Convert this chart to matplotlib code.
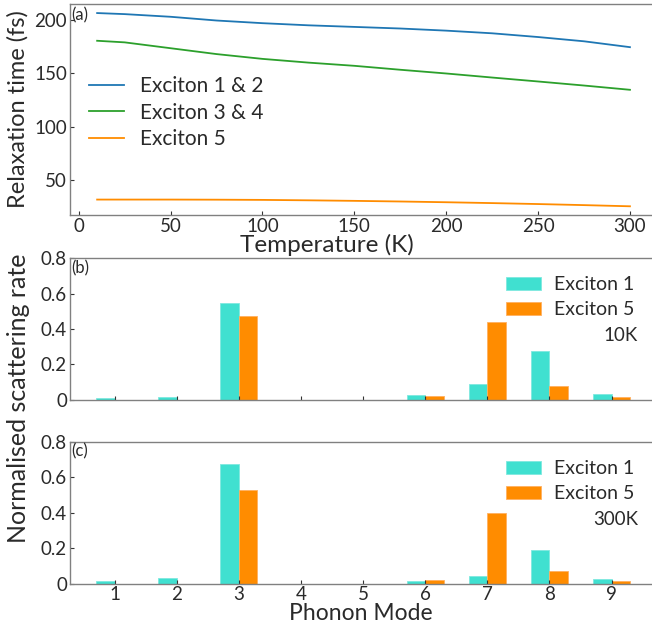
import matplotlib
matplotlib.use("Agg")
import matplotlib.pyplot as plt
import numpy as np

plt.rcParams['font.family'] = ['Lato', 'DejaVu Sans']

# Panel (a) data
temperature = [10, 25, 50, 75, 100, 125, 150, 175, 200, 225, 250, 275, 300]
exc12 = [206.5, 205.5, 203, 199.5, 197, 195, 193.5, 192, 190, 187.5, 184, 180, 174.5]
exc34 = [180.5, 179, 173.5, 168, 163.5, 160, 157, 153.3, 149.8, 146, 142.3, 138.5, 134.5]
exc5 = [31.5, 31.5, 31.5, 31.4, 31.2, 30.8, 30.3, 29.7, 29.0, 28.2, 27.3, 26.3, 25.2]

# Panels (b), (c) data
modes = [1, 2, 3, 4, 5, 6, 7, 8, 9]
ex1_10K = [0.012, 0.019, 0.546, 0, 0, 0.026, 0.092, 0.278, 0.035]
ex5_10K = [0, 0, 0.475, 0, 0, 0.020, 0.437, 0.077, 0.019]
ex1_300K = [0.015, 0.030, 0.674, 0, 0, 0.015, 0.045, 0.188, 0.028]
ex5_300K = [0, 0, 0.526, 0, 0, 0.019, 0.398, 0.072, 0.015]

cyan = '#40E0D0'
orange = '#FF8C00'
spine_col = '#808080'
text_col = '#2a2a2a'

fig = plt.figure(figsize=(6.52, 6.24), dpi=100)
ax_a = fig.add_axes([0.107, 0.6554, 0.893, 0.3382])
ax_b = fig.add_axes([0.107, 0.359, 0.893, 0.2275])
ax_c = fig.add_axes([0.107, 0.0646, 0.893, 0.2276])

def style(ax):
    for s in ['left', 'top', 'bottom']:
        ax.spines[s].set_color(spine_col)
        ax.spines[s].set_linewidth(1.0)
    ax.spines['right'].set_visible(False)
    ax.tick_params(direction='in', length=3, colors='#333333', labelsize=13.5,
                   labelcolor=text_col, pad=2)

ax_a.plot(temperature, exc12, color='tab:blue', lw=1.3, label='Exciton 1 & 2')
ax_a.plot(temperature, exc34, color='tab:green', lw=1.3, label='Exciton 3 & 4')
ax_a.plot(temperature, exc5, color=orange, lw=1.3, label='Exciton 5')
ax_a.set_xlim(-4.9, 312)
ax_a.set_ylim(17, 215)
ax_a.set_xticks([0, 50, 100, 150, 200, 250, 300])
ax_a.set_yticks([50, 100, 150, 200])
style(ax_a)
ax_a.set_xlabel('Temperature (K)', fontsize=17.5, labelpad=-1, color=text_col)
ax_a.xaxis.label.set_x(0.4416)
ax_a.set_ylabel('Relaxation time (fs)', fontsize=17, labelpad=4, color=text_col)
leg = ax_a.legend(loc='center left', bbox_to_anchor=(0.0, 0.485), frameon=False,
                  fontsize=15, handlelength=1.7, labelspacing=0.32, handletextpad=0.75,
                  labelcolor=text_col)
ax_a.text(0.003, 0.985, '(a)', transform=ax_a.transAxes, fontsize=12, va='top', ha='left',
          color=text_col)

x = np.array(modes, dtype=float)
w = 0.3
for ax, e1, e5, lab, tlab in [(ax_b, ex1_10K, ex5_10K, '(b)', '10K'),
                              (ax_c, ex1_300K, ex5_300K, '(c)', '300K')]:
    ax.bar(x - w / 2, e1, width=w, color=cyan, edgecolor='#7fe9df', linewidth=0.6, label='Exciton 1')
    ax.bar(x + w / 2, e5, width=w, color=orange, edgecolor='#ffb060', linewidth=0.6, label='Exciton 5')
    ax.set_xlim(0.28, 9.65)
    ax.set_ylim(0, 0.8)
    ax.set_yticks([0, 0.2, 0.4, 0.6, 0.8])
    ax.set_yticklabels(['0', '0.2', '0.4', '0.6', '0.8'])
    ax.set_xticks(modes)
    style(ax)
    ax.legend(loc='upper right', bbox_to_anchor=(1.0, 0.995), frameon=False, fontsize=14,
              handlelength=1.8, handleheight=0.65, labelspacing=0.42, handletextpad=0.7,
              labelcolor=text_col)
    ax.text(0.003, 0.985, lab, transform=ax.transAxes, fontsize=12, va='top', ha='left',
            color=text_col)
    ax.text(0.976, 0.455, tlab, transform=ax.transAxes, fontsize=13.5, va='center', ha='right',
            color=text_col)

ax_b.tick_params(labelbottom=False)
ax_c.set_xlabel('Phonon Mode', fontsize=16.5, labelpad=0, color=text_col)
fig.text(0.028, 0.362, 'Normalised scattering rate', rotation=90, fontsize=18,
         va='center', ha='center', color=text_col)

fig.savefig('out.png', dpi=100)
